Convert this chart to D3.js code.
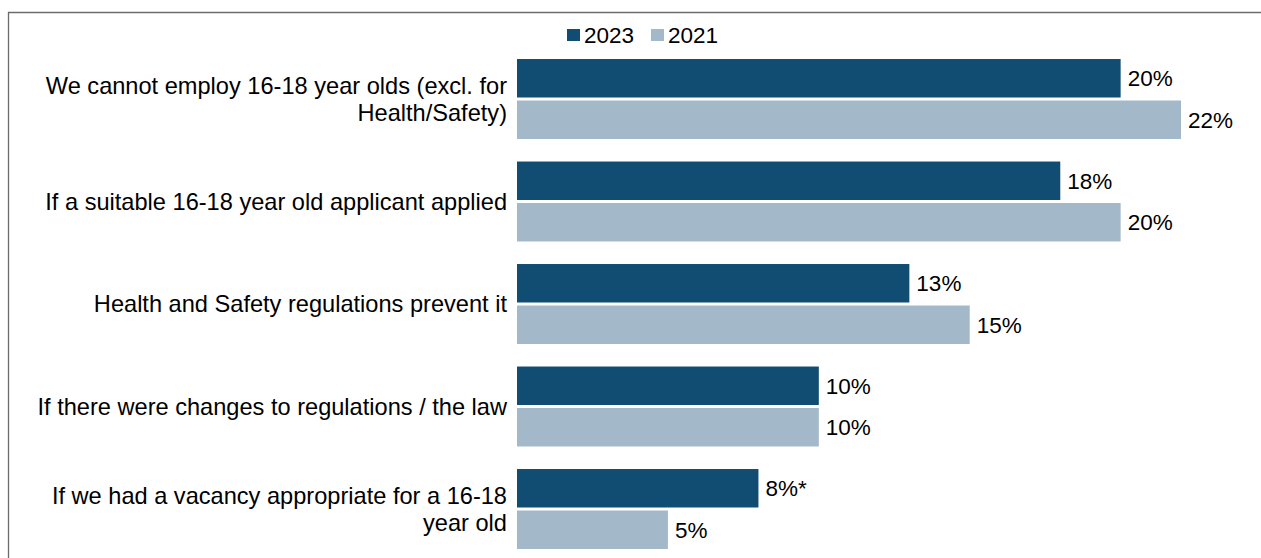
<!DOCTYPE html>
<html>
<head>
<meta charset="utf-8">
<script src="https://cdn.jsdelivr.net/npm/d3@7"></script>
<style>
  html, body { margin: 0; padding: 0; background: #fff; }
  svg { display: block; font-family: "Liberation Sans", Arial, sans-serif; }
</style>
</head>
<body>
<svg id="chart" width="1261" height="558"></svg>
<script>
// Reasons / conditions for employing 16-18 year olds, share of employers
const categories = [
  "We cannot employ 16-18 year olds (excl. for Health/Safety)",
  "If a suitable 16-18 year old applicant applied",
  "Health and Safety regulations prevent it",
  "If there were changes to regulations / the law",
  "If we had a vacancy appropriate for a 16-18 year old"
];
const labelLines = [
  ["We cannot employ 16-18 year olds (excl. for", "Health/Safety)"],
  ["If a suitable 16-18 year old applicant applied"],
  ["Health and Safety regulations prevent it"],
  ["If there were changes to regulations / the law"],
  ["If we had a vacancy appropriate for a 16-18", "year old"]
];
const seriesNames = ["2023", "2021"];
const values2023 = [20, 18, 13, 10, 8];
const values2021 = [22, 20, 15, 10, 5];
const valueSuffix2023 = ["%", "%", "%", "%", "%*"];
const valueSuffix2021 = ["%", "%", "%", "%", "%"];

const colors = { "2023": "#114d72", "2021": "#a3b9c9" };

const svg = d3.select("#chart");
const W = 1261, H = 558;

// frame (top and left edges)
svg.append("line").attr("x1", 8).attr("x2", W).attr("y1", 12.5).attr("y2", 12.5)
  .attr("stroke", "#6b6b6b").attr("stroke-width", 1.3);
svg.append("line").attr("x1", 8.5).attr("x2", 8.5).attr("y1", 12).attr("y2", H)
  .attr("stroke", "#6b6b6b").attr("stroke-width", 1.3);

const x = d3.scaleLinear().domain([0, 22]).range([517, 1181]);
const y0 = d3.scaleBand().domain(categories).range([47.75, 560.25])
  .paddingInner(0.22).paddingOuter(0.11);
const y1 = d3.scaleBand().domain(seriesNames).range([0, y0.bandwidth()])
  .paddingInner(0.0723);

const rows = categories.map((c, i) => ({
  cat: c,
  lines: labelLines[i],
  vals: [
    { s: "2023", v: values2023[i], suf: valueSuffix2023[i] },
    { s: "2021", v: values2021[i], suf: valueSuffix2021[i] }
  ]
}));

const fontSize = 22.5;

const g = svg.selectAll("g.row").data(rows).join("g")
  .attr("class", "row")
  .attr("transform", d => `translate(0,${y0(d.cat)})`);

g.selectAll("rect").data(d => d.vals).join("rect")
  .attr("x", x(0))
  .attr("y", d => y1(d.s))
  .attr("width", d => x(d.v) - x(0))
  .attr("height", y1.bandwidth())
  .attr("fill", d => colors[d.s]);

g.selectAll("text.val").data(d => d.vals).join("text")
  .attr("class", "val")
  .attr("x", d => x(d.v) + 7)
  .attr("y", d => y1(d.s) + y1.bandwidth() / 2)
  .attr("dy", "0.35em")
  .attr("font-size", fontSize)
  .attr("fill", "#000")
  .text(d => d.v + d.suf);

// category labels, right-aligned next to the bars
const lineH = 27;
g.each(function (d) {
  const n = d.lines.length;
  const cy = y0.bandwidth() / 2;
  const t = d3.select(this).append("text")
    .attr("text-anchor", "end")
    .attr("font-size", 23.6)
    .attr("fill", "#000");
  d.lines.forEach((ln, k) => {
    t.append("tspan")
      .attr("x", 507)
      .attr("y", cy + (k - (n - 1) / 2) * lineH)
      .attr("dy", "0.35em")
      .text(ln);
  });
});

// legend
const legend = svg.append("g");
const legendX = [567, 651];
seriesNames.forEach((s, i) => {
  legend.append("rect").attr("x", legendX[i]).attr("y", 29)
    .attr("width", 13).attr("height", 12).attr("fill", colors[s]);
  legend.append("text").attr("x", legendX[i] + 17).attr("y", 35)
    .attr("dy", "0.35em").attr("font-size", fontSize).attr("fill", "#000").text(s);
});
</script>
</body>
</html>
